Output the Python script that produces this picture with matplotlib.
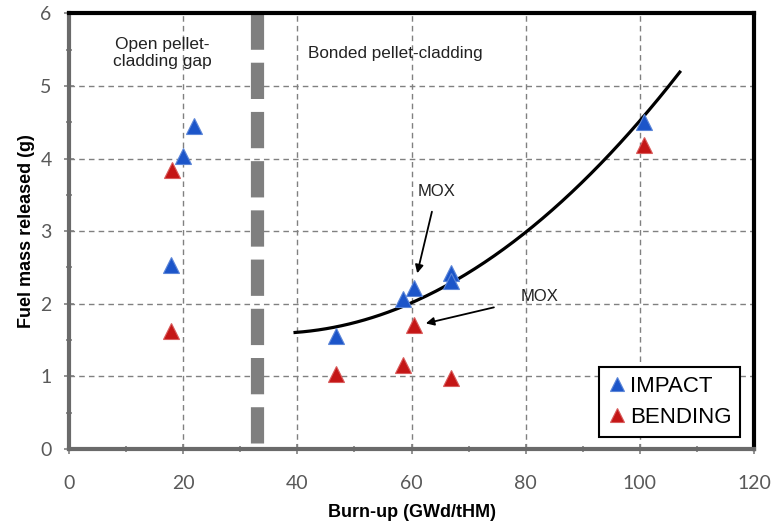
import numpy as np
import matplotlib
matplotlib.use("Agg")
import matplotlib.pyplot as plt

# Data
impact_x = [21.9, 19.9, 17.9, 46.8, 58.5, 60.4, 67.0, 67.0, 100.7]
impact_y = [4.45, 4.03, 2.53, 1.55, 2.06, 2.22, 2.42, 2.31, 4.50]
bending_x = [18.0, 17.9, 46.8, 58.5, 60.4, 67.0, 100.7]
bending_y = [3.84, 1.63, 1.04, 1.16, 1.71, 0.98, 4.19]

# Trend curve points
curve_x = [39.6, 47.0, 60.0, 67.0, 80.0, 100.0, 107.0]
curve_y = [1.62, 1.68, 2.03, 2.22, 3.02, 4.58, 5.14]

x_ticks = [0, 20, 40, 60, 80, 100, 120]
y_ticks = [0, 1, 2, 3, 4, 5, 6]
boundary_x = 32.9

fig = plt.figure(figsize=(7.72, 5.22), dpi=100)
ax = fig.add_axes([0.0894, 0.1398, 0.9767 - 0.0894, 0.9745 - 0.1398])

ax.set_xlim(0, 120)
ax.set_ylim(0, 6)
ax.set_xticks(x_ticks)
ax.set_yticks(y_ticks)
ax.set_xticks(np.arange(10, 120, 20), minor=True)
ax.set_yticks(np.arange(0.5, 6, 1.0), minor=True)

ax.grid(True, which="major", linestyle=(0, (4, 3)), color="#808080", linewidth=1.0)
ax.set_axisbelow(True)

tick_color = "#595959"
ax.tick_params(axis="both", which="major", direction="inout", length=7, width=1.2,
               color="#808080", labelsize=14, labelcolor=tick_color)
ax.tick_params(axis="both", which="minor", direction="inout", length=5, width=1.2,
               color="#808080")
for lab in ax.get_xticklabels() + ax.get_yticklabels():
    lab.set_family(["Lato", "DejaVu Sans"])
ax.tick_params(axis="x", pad=15)
ax.tick_params(axis="y", pad=9)

for s in ["left", "bottom"]:
    ax.spines[s].set_color("#6a6a6a")
    ax.spines[s].set_linewidth(3.0)
for s in ["top", "right"]:
    ax.spines[s].set_color("black")
    ax.spines[s].set_linewidth(3.0)

# Boundary dashed bar
ax.plot([boundary_x, boundary_x], [6.0, 0.06], color="#7f7f7f", linewidth=9.5,
        linestyle=(0, (2.75, 0.98)), solid_capstyle="butt", dash_capstyle="butt", zorder=2)

# Trend curve
coef = np.polyfit(curve_x, curve_y, 2)
xs = np.linspace(curve_x[0], curve_x[-1], 200)
ax.plot(xs, np.polyval(coef, xs), color="black", linewidth=2.3, zorder=3)

blue = "#1c55c9"
red = "#c41616"
ax.plot(impact_x, impact_y, linestyle="none", marker="^", markersize=11,
        color=blue, markeredgecolor="#5c86d8", markeredgewidth=0.8, zorder=4, label="IMPACT")
ax.plot(bending_x, bending_y, linestyle="none", marker="^", markersize=11,
        color=red, markeredgecolor="#d85c5c", markeredgewidth=0.8, zorder=4, label="BENDING")

font = ["Liberation Sans", "DejaVu Sans"]
ax.text(16.3, 5.45, "Open pellet-\ncladding gap", ha="center", va="center",
        fontsize=12.5, color="#222222", family=font, linespacing=1.2)
ax.text(41.8, 5.45, "Bonded pellet-cladding", ha="left", va="center",
        fontsize=12.3, color="#222222", family=font)

ax.annotate("MOX", xy=(61.0, 2.42), xytext=(64.4, 3.54), ha="center", va="center",
            fontsize=12, color="#222222", family=font,
            arrowprops=dict(arrowstyle="-|>", color="black", lw=1.3,
                            shrinkA=7, shrinkB=0, mutation_scale=12))
ax.annotate("MOX", xy=(62.5, 1.73), xytext=(82.5, 2.1), ha="center", va="center",
            fontsize=12, color="#222222", family=font,
            arrowprops=dict(arrowstyle="-|>", color="black", lw=1.3,
                            shrinkA=18, shrinkB=0, mutation_scale=12))

ax.set_xlabel("Burn-up (GWd/tHM)", fontsize=13, fontweight="bold", family=font, labelpad=9)
ax.set_ylabel("Fuel mass released (g)", fontsize=13, fontweight="bold", family=font, labelpad=4)

leg = ax.legend(loc="lower right", bbox_to_anchor=(0.98, 0.028), frameon=True, fancybox=False,
                edgecolor="black", handlelength=0.8, handletextpad=0.2, markerscale=0.9,
                prop={"family": font, "size": 16}, borderpad=0.4, labelspacing=0.45,
                borderaxespad=0)
leg.get_frame().set_linewidth(1.5)
leg.get_frame().set_alpha(1)

fig.savefig("out.png", dpi=100)
